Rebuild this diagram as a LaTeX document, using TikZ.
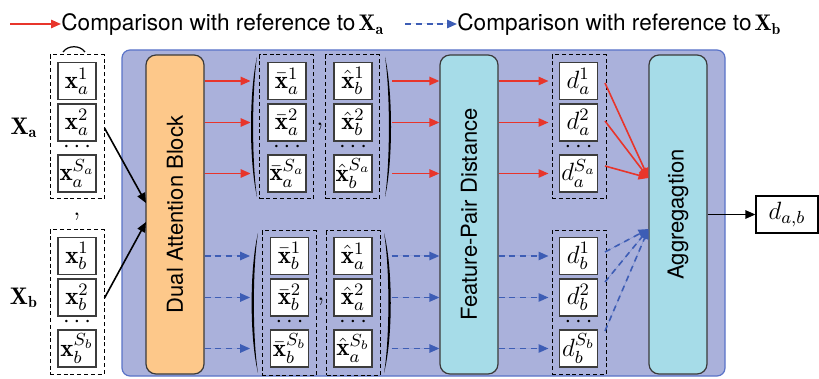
\RequirePackage{fix-cm}
\documentclass[tikz,border=0pt]{standalone}
\usepackage{fontspec}
\newfontfamily\heros{TeX Gyre Heros}
\usetikzlibrary{arrows.meta}

\definecolor{panelfill}{HTML}{AAB1DB}
\definecolor{panelline}{HTML}{5A73C8}
\definecolor{attnfill}{HTML}{FDC88A}
\definecolor{distfill}{HTML}{A6DCE8}
\definecolor{blockline}{HTML}{3A3A3A}
\definecolor{cellline}{HTML}{3C3C3C}
\definecolor{refred}{HTML}{E8352B}
\definecolor{refblue}{HTML}{3D5DB5}

\tikzset{
  cell/.style={draw=cellline, fill=white, line width=0.6pt,
    minimum width=19pt, minimum height=18.5pt, inner sep=0pt,
    font=\fontsize{12.5}{14}\selectfont},
  grp/.style={draw=black, line width=0.5pt, dash pattern=on 2pt off 1.4pt,
    inner sep=0pt, minimum width=27pt, minimum height=72pt},
  wrap/.style={inner sep=0pt, minimum width=70.5pt, minimum height=72pt},
  stage/.style={draw=blockline, line width=0.6pt, rounded corners=5pt,
    rotate=90, minimum width=159.5pt, minimum height=29pt, inner sep=0pt,
    font=\heros\fontsize{11}{13}\selectfont},
  tipA/.style={-{Triangle[length=5pt,width=4.2pt]}},
  redarr/.style={tipA, draw=refred, fill=refred, line width=0.8pt},
  bluearr/.style={tipA, draw=refblue, fill=refblue, line width=0.8pt,
    dash pattern=on 3pt off 2.4pt},
  blackarr/.style={tipA, draw=black, line width=0.8pt},
  dotsnode/.style={inner sep=0pt, font=\fontsize{12}{14}\selectfont},
  sep/.style={anchor=base, inner sep=0pt, font=\fontsize{13}{15}\selectfont},
}

% large round bracket drawn as a filled crescent:
% #1 x at both ends, #2 x of the bulge, #3 top, #4 bottom
\newcommand{\roundbracket}[4]{%
  \fill (#1,#3) .. controls (#2,#3+35) and (#2,#4-35) .. (#1,#4)
    .. controls ({#2+0.35*(#1-#2)},#4-35) and ({#2+0.35*(#1-#2)},#3+35) .. (#1,#3) -- cycle;}

\begin{document}
\begin{tikzpicture}[x=0.5pt, y=-0.5pt, font=\fontsize{11}{13}\selectfont]
\useasboundingbox (0,0) rectangle (819,379);

% legend
\coordinate (lr0) at (10,24);
\node[anchor=base west, inner sep=0pt, font=\heros\fontsize{11.3}{13}\selectfont]
  (legA) at (61,31) {Comparison with reference to\hspace{1.5pt}$\mathbf{X}_{\mathbf{a}}$};
\draw[redarr] (lr0) -- (legA.west |- lr0);
\coordinate (lb0) at (405,24);
\node[anchor=base west, inner sep=0pt, font=\heros\fontsize{11.3}{13}\selectfont]
  (legB) at (457,31) {Comparison with reference to\hspace{1.5pt}$\mathbf{X}_{\mathbf{b}}$};
\draw[bluearr] (lb0) -- (legB.west |- lb0);

% main panel
\path[fill=panelfill, draw=panelline, line width=0.6pt, rounded corners=4pt]
  (122,50) rectangle (725,376);

% input sets
\node[font=\fontsize{12}{14}\selectfont] (la) at (24,128) {$\mathbf{X}_{\mathbf{a}}$};
\node[font=\fontsize{12}{14}\selectfont] (lb) at (24,298) {$\mathbf{X}_{\mathbf{b}}$};
\node[grp] (ga) at (77,127) {};
\node[grp] (gb) at (77,302) {};
\node[cell] (xa1) at (77,81) {$\mathbf{x}_a^1$};
\node[cell] (xa2) at (77,122.5) {$\mathbf{x}_a^2$};
\node[dotsnode] (xad) at (77,147) {$\cdots$};
\node[cell] (xa3) at (77,173.5) {$\mathbf{x}_a^{S_a}$};
\node[cell] (xb1) at (77,256) {$\mathbf{x}_b^1$};
\node[cell] (xb2) at (77,297.5) {$\mathbf{x}_b^2$};
\node[dotsnode] (xbd) at (77,322) {$\cdots$};
\node[cell] (xb3) at (77,348.5) {$\mathbf{x}_b^{S_b}$};
\node[sep] (cin) at (77,216) {,};
\draw[line width=0.6pt] (63,52) .. controls (68,45) and (80,45) .. (85,52);

% processing stages
\node[stage, fill=attnfill] (dual) at (175,214.5) {Dual Attention Block};
\node[stage, fill=distfill] (feat) at (469,214.5) {Feature-Pair Distance};
\node[stage, fill=distfill] (agg) at (678,214.5) {Aggregagtion};

% input arrows
\coordinate (inA) at (146,203);
\coordinate (inB) at (146,222);
\draw[blackarr] (ga.east |- la) -- (inA);
\draw[blackarr] (gb.east |- lb) -- (inB);

% attended feature pairs, upper
\node[wrap] (mA) at (321.5,127) {};
\node[grp] (gab) at (286.5,127) {};
\node[grp] (gah) at (352.5,127) {};
\node[cell] (pa1) at (287,81) {$\bar{\mathbf{x}}_a^1$};
\node[cell] (pa2) at (287,122.5) {$\bar{\mathbf{x}}_a^2$};
\node[dotsnode] at (287,147) {$\cdots$};
\node[cell] (pa3) at (287,173.5) {$\bar{\mathbf{x}}_a^{S_a}$};
\node[cell] (qa1) at (353,81) {$\hat{\mathbf{x}}_b^1$};
\node[cell] (qa2) at (353,122.5) {$\hat{\mathbf{x}}_b^2$};
\node[dotsnode] at (353,147) {$\cdots$};
\node[cell] (qa3) at (353,173.5) {$\hat{\mathbf{x}}_b^{S_a}$};
\node[sep] at (320,126) {,};
\roundbracket{257}{249}{57}{197}
\roundbracket{385}{393}{57}{197}

% attended feature pairs, lower
\node[wrap] (mB) at (321,303) {};
\node[grp] (gbb) at (289,303) {};
\node[grp] (gbh) at (353.5,303) {};
\node[cell] (pb1) at (289.5,256) {$\bar{\mathbf{x}}_b^1$};
\node[cell] (pb2) at (289.5,297.5) {$\bar{\mathbf{x}}_b^2$};
\node[dotsnode] at (289.5,322) {$\cdots$};
\node[cell] (pb3) at (289.5,348.5) {$\bar{\mathbf{x}}_b^{S_b}$};
\node[cell] (qb1) at (353,256) {$\hat{\mathbf{x}}_a^1$};
\node[cell] (qb2) at (353,297.5) {$\hat{\mathbf{x}}_a^2$};
\node[dotsnode] at (353,322) {$\cdots$};
\node[cell] (qb3) at (353,348.5) {$\hat{\mathbf{x}}_a^{S_b}$};
\node[sep] at (321,300) {,};
\roundbracket{258}{249.5}{233}{373}
\roundbracket{384}{393}{233}{373}

% distances
\node[grp] (da) at (579,127) {};
\node[grp] (db) at (579,302.5) {};
\node[cell] (da1) at (578.5,81) {$d_a^1$};
\node[cell] (da2) at (578.5,122.5) {$d_a^2$};
\node[dotsnode] at (578.5,147) {$\cdots$};
\node[cell] (da3) at (578.5,173.5) {$d_a^{S_a}$};
\node[cell] (db1) at (578.5,256) {$d_b^1$};
\node[cell] (db2) at (578.5,297.5) {$d_b^2$};
\node[dotsnode] at (578.5,322) {$\cdots$};
\node[cell] (db3) at (578.5,348.5) {$d_b^{S_b}$};

% output
\node[draw=black, line width=0.6pt, fill=white, minimum width=31pt,
  minimum height=18.5pt, inner sep=0pt, font=\fontsize{12.5}{14}\selectfont]
  (dab) at (787,214.5) {$d_{a,b}$};
\draw[blackarr] (agg.south |- dab) -- (dab.west);

% reference-to-a flow (solid red)
\foreach \r in {xa1,xa2,xa3} {
  \draw[redarr] (dual.south |- \r) -- (mA.west |- \r);
  \draw[redarr] (mA.east |- \r) -- (feat.north |- \r);
  \draw[redarr, shorten >=1.5pt] (feat.south |- \r) -- (da.west |- \r);
}
\coordinate (fa1) at (605,83);
\coordinate (fa2) at (605,121);
\coordinate (fa3) at (605,166);
\coordinate (fanA) at (648.5,178);
\foreach \s in {fa1,fa2,fa3} \draw[redarr] (\s) -- (fanA);

% reference-to-b flow (dashed blue)
\foreach \r in {xb1,xb2,xb3} {
  \draw[bluearr] (dual.south |- \r) -- (mB.west |- \r);
  \draw[bluearr] (mB.east |- \r) -- (feat.north |- \r);
  \draw[bluearr, shorten >=1.5pt] (feat.south |- \r) -- (db.west |- \r);
}
\coordinate (fb1) at (605,252);
\coordinate (fb2) at (605,282);
\coordinate (fb3) at (605,331);
\coordinate (fanB) at (648.5,229);
\foreach \s in {fb1,fb2,fb3} \draw[bluearr] (\s) -- (fanB);
\end{tikzpicture}
\end{document}
